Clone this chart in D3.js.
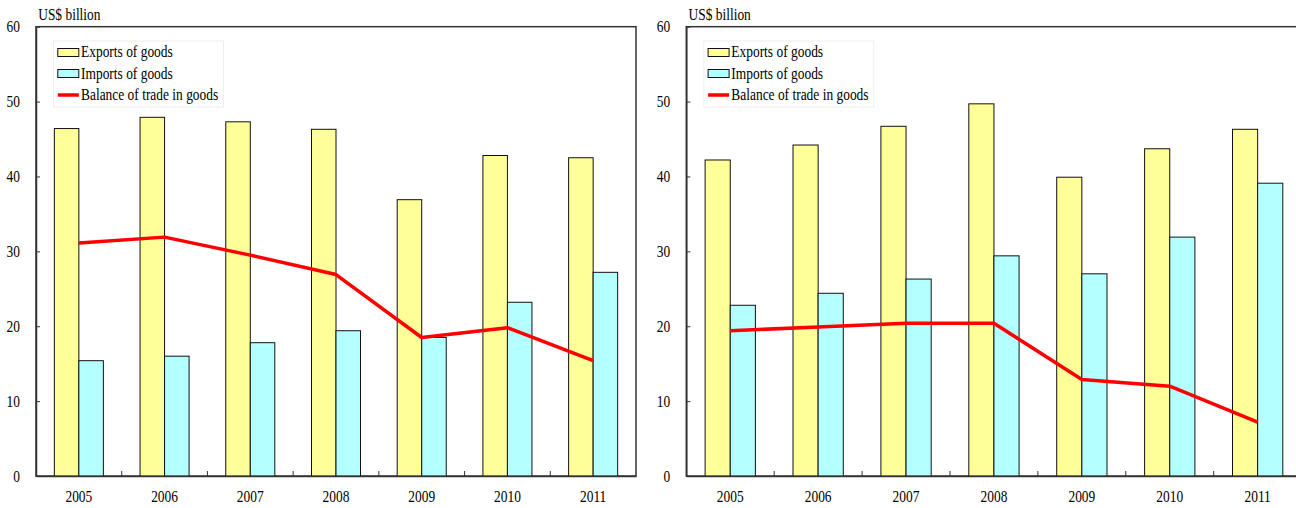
<!DOCTYPE html>
<html>
<head>
<meta charset="utf-8">
<script src="https://cdn.jsdelivr.net/npm/d3@7"></script>
<style>
  html, body { margin: 0; padding: 0; background: #fff; }
  svg { display: block; }
</style>
</head>
<body>
<svg id="chart" width="1296" height="508"></svg>
<script>
// ---- data ----
const years = ["2005", "2006", "2007", "2008", "2009", "2010", "2011"];
const yTicks = [0, 10, 20, 30, 40, 50, 60];
const unitLabel = "US$ billion";
const seriesNames = ["Exports of goods", "Imports of goods", "Balance of trade in goods"];

const leftExports = [46.4, 47.9, 47.3, 46.3, 36.9, 42.8, 42.5];
const leftImports = [15.4, 16.0, 17.8, 19.4, 18.5, 23.2, 27.2];
const leftBalance = [31.1, 31.9, 29.5, 26.9, 18.5, 19.8, 15.4];

const rightExports = [42.2, 44.2, 46.7, 49.7, 39.9, 43.7, 46.3];
const rightImports = [22.8, 24.4, 26.3, 29.4, 27.0, 31.9, 39.1];
const rightBalance = [19.4, 19.9, 20.4, 20.4, 12.9, 12.0, 7.2];

// ---- style ----
const FONT = "'Liberation Serif', 'Times New Roman', serif";
const FS = 16;
const SX = 0.84;
const C_EXP = "#FFFF99";
const C_IMP = "#B4FFFF";
const C_BAL = "#FF0000";

const svg = d3.select("#chart");

function condText(g, x, y, str, anchor) {
  return g.append("text")
    .attr("transform", `translate(${x},${y}) scale(${SX},1)`)
    .attr("font-family", FONT)
    .attr("font-size", FS)
    .attr("fill", "#000")
    .attr("text-anchor", anchor || "start")
    .text(str);
}

function condenseAxisText(sel) {
  sel.selectAll("text").each(function () {
    const t = d3.select(this);
    const x = +t.attr("x") || 0;
    const y = +t.attr("y") || 0;
    t.attr("x", null).attr("y", null)
     .attr("transform", `translate(${x},${y}) scale(${SX},1)`)
     .attr("font-family", FONT)
     .attr("font-size", FS)
     .attr("fill", "#000");
  });
}

function panel(x0, x1, exportsV, importsV, balanceV) {
  const top = 26.7, bottom = 476;
  const g = svg.append("g");
  const x = d3.scaleBand().domain(years).range([x0, x1]).paddingInner(0).paddingOuter(0);
  const y = d3.scaleLinear().domain([0, 60]).range([bottom, top]);
  const bw = x.bandwidth() * 0.286;
  const cx = d => x(d) + x.bandwidth() / 2;

  // frame (top/right)
  g.append("rect")
    .attr("x", x0).attr("y", top)
    .attr("width", x1 - x0).attr("height", bottom - top)
    .attr("fill", "none").attr("stroke", "#333").attr("stroke-width", 1.5);

  // bars
  g.append("g").selectAll("rect").data(years).join("rect")
    .attr("x", d => cx(d) - bw)
    .attr("y", (d, i) => y(exportsV[i]))
    .attr("width", bw)
    .attr("height", (d, i) => bottom - y(exportsV[i]))
    .attr("fill", C_EXP).attr("stroke", "#111").attr("stroke-width", 1);
  g.append("g").selectAll("rect").data(years).join("rect")
    .attr("x", d => cx(d))
    .attr("y", (d, i) => y(importsV[i]))
    .attr("width", bw)
    .attr("height", (d, i) => bottom - y(importsV[i]))
    .attr("fill", C_IMP).attr("stroke", "#111").attr("stroke-width", 1);

  // balance line
  const line = d3.line().x((d, i) => cx(years[i])).y(d => y(d));
  g.append("path").datum(balanceV)
    .attr("d", line)
    .attr("fill", "none").attr("stroke", C_BAL)
    .attr("stroke-width", 3.5).attr("stroke-linejoin", "round");

  // y axis
  const ya = g.append("g").attr("transform", `translate(${x0},0)`)
    .call(d3.axisLeft(y).tickValues(yTicks).tickSizeInner(-4).tickSizeOuter(0).tickPadding(16));
  ya.select(".domain").attr("stroke", "#333").attr("stroke-width", 1.5);
  ya.selectAll(".tick line").attr("stroke", "#333");
  condenseAxisText(ya);

  // x axis (labels at band centres)
  const xa = g.append("g").attr("transform", `translate(0,${bottom})`)
    .call(d3.axisBottom(x).tickSize(0).tickPadding(15));
  xa.select(".domain").attr("stroke", "#333").attr("stroke-width", 1.5);
  condenseAxisText(xa);

  // boundary ticks between categories (inward)
  g.append("g").selectAll("line").data(years.slice(1)).join("line")
    .attr("x1", d => x(d)).attr("x2", d => x(d))
    .attr("y1", bottom).attr("y2", bottom - 5)
    .attr("stroke", "#333").attr("stroke-width", 1);

  // unit label
  condText(g, x0 + 2.2, 20, unitLabel);

  // legend
  const lg = g.append("g");
  lg.append("rect")
    .attr("x", x0 + 17.5).attr("y", 41)
    .attr("width", 170).attr("height", 66)
    .attr("fill", "#fff").attr("stroke", "#eeeeee").attr("stroke-width", 1);
  const sx = x0 + 21.8, sw = 21, tx = x0 + 45;
  const rowsY = [57, 78.5, 99.5];
  lg.append("rect").attr("x", sx).attr("y", 48.5).attr("width", sw).attr("height", 8)
    .attr("fill", C_EXP).attr("stroke", "#111").attr("stroke-width", 1);
  lg.append("rect").attr("x", sx).attr("y", 69.5).attr("width", sw).attr("height", 8)
    .attr("fill", C_IMP).attr("stroke", "#111").attr("stroke-width", 1);
  lg.append("line").attr("x1", sx).attr("x2", sx + sw).attr("y1", 95).attr("y2", 95)
    .attr("stroke", C_BAL).attr("stroke-width", 3.5);
  seriesNames.forEach((s, i) => condText(lg, tx, rowsY[i], s));
}

panel(36, 636, leftExports, leftImports, leftBalance);
panel(686.3, 1301.6, rightExports, rightImports, rightBalance);
</script>
</body>
</html>
